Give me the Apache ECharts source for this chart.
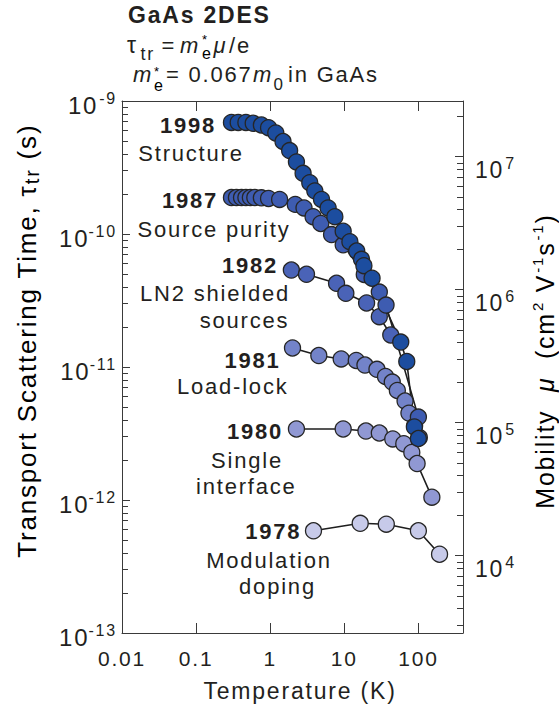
<!DOCTYPE html>
<html>
<head>
<meta charset="utf-8">
<title>GaAs 2DES transport scattering time</title>
<script src="https://cdn.jsdelivr.net/npm/echarts@6/dist/echarts.min.js"></script>
<style>
  html, body { margin: 0; padding: 0; background: #ffffff; }
  #chart { width: 559px; height: 715px; }
  #chart text { letter-spacing: 1.8px; }
</style>
</head>
<body>
<div id="chart"></div>
<script>
// Temperature (K) and transport scattering time tau_tr (s) for each growth milestone
const temp1998 = [0.30, 0.37, 0.47, 0.59, 0.76, 0.95, 1.19, 1.49, 1.83, 2.26, 2.78, 3.42, 4.0, 4.93, 6.05, 7.46, 9.66, 11.9, 14.7, 17.1, 18.4, 23.7, 57.8, 69.7, 88.3, 100];
const tau1998  = [6.9e-10, 6.9e-10, 6.9e-10, 6.8e-10, 6.6e-10, 6.3e-10, 5.75e-10, 4.96e-10, 4.24e-10, 3.48e-10, 2.86e-10, 2.43e-10, 2.11e-10, 1.82e-10, 1.57e-10, 1.35e-10, 1.05e-10, 8.75e-11, 7.45e-11, 6.45e-11, 5.78e-11, 4.65e-11, 1.54e-11, 1.10e-11, 3.54e-12, 2.9e-12];

const temp1987 = [0.30, 0.35, 0.41, 0.47, 0.54, 0.62, 0.76, 0.95, 1.34, 2.18, 2.86, 3.79, 4.82, 6.73, 9.66, 18.6, 29.7, 36.6, 100];
const tau1987  = [1.88e-10, 1.88e-10, 1.88e-10, 1.88e-10, 1.88e-10, 1.88e-10, 1.87e-10, 1.85e-10, 1.82e-10, 1.67e-10, 1.57e-10, 1.35e-10, 1.20e-10, 9.9e-11, 8.3e-11, 4.96e-11, 3.66e-11, 2.92e-11, 4.2e-12];

const temp1982 = [1.93, 3.09, 7.86, 10.5, 20.0, 29.7, 42.4];
const tau1982  = [5.36e-11, 4.98e-11, 4.26e-11, 3.58e-11, 3.03e-11, 2.39e-11, 1.74e-11];

const temp1981 = [2.0, 4.53, 9.08, 14.5, 19.0, 27.6, 36.0, 44.4, 52.0, 66.1, 74.5, 88.9, 103];
const tau1981  = [1.39e-11, 1.22e-11, 1.15e-11, 1.12e-11, 1.035e-11, 9.6e-12, 8.5e-12, 7.7e-12, 6.66e-12, 5.55e-12, 4.5e-12, 3.6e-12, 2.95e-12];

const temp1980 = [2.26, 9.66, 19.6, 29.7, 45.1, 63.5, 81.5, 96.1, 152];
const tau1980  = [3.42e-12, 3.42e-12, 3.30e-12, 3.19e-12, 2.88e-12, 2.65e-12, 2.28e-12, 1.88e-12, 1.05e-12];

const temp1978 = [3.84, 16.4, 36.9, 100, 193];
const tau1978  = [5.87e-13, 6.68e-13, 6.58e-13, 5.87e-13, 3.91e-13];

// Axis ranges and tick labels
const tempRange = [0.01, 400];
const tempTicks = [0.01, 0.1, 1, 10, 100];
const tempTickLabels = ['0.01', '0.1', '1', '10', '100'];
const tauExponents = [-13, -12, -11, -10, -9];
const mobilityExponents = [4, 5, 6, 7];

// tau_tr = m* mu / e with m* = 0.067 m0; mobility in cm^2/Vs
const tauPerMobility = 0.067 * 9.1094e-31 / 1.60218e-19 * 1e-4;

const FONT = '"Liberation Sans", Arial, Helvetica, sans-serif';
const INK = '#231f20';
const FRAME = '#3a3a3a';
const LS = 1.8; // letter spacing applied to all svg text (see stylesheet)

const log10 = Math.log10;

// minor ticks at 2..9 x 10^n, in log10 units
function minorTicks(lo, hi) {
  const out = [];
  for (let n = Math.floor(lo); n < Math.ceil(hi); n++) {
    for (let k = 2; k <= 9; k++) {
      const v = n + log10(k);
      if (v > lo && v < hi) out.push(v);
    }
  }
  return out;
}

// Centred rich text: every run is widened on both sides by its letter spacing,
// so each run gets a left padding covering half of its own and its neighbour's spread.
function spacedRich(runs) {
  let text = '';
  const rich = {};
  let prevChars = 0;
  runs.forEach((r, k) => {
    const key = 'r' + k;
    const n = r.t.length;
    const pad = k === 0 ? 0 : (prevChars + n) / 2 * LS + (r.gap || 0);
    rich[key] = Object.assign({ fontFamily: FONT, color: INK, padding: [0, 0, 0, pad] }, r.style);
    text += '{' + key + '|' + r.t + '}';
    prevChars = n;
  });
  return { text: text, rich: rich };
}

const tauMin = tauExponents[0];
const tauMax = tauExponents[tauExponents.length - 1];
const muMin = log10(Math.pow(10, tauMin) / tauPerMobility);
const muMax = log10(Math.pow(10, tauMax) / tauPerMobility);

const seriesDefs = [
  { year: '1978', temp: temp1978, tau: tau1978, color: '#c7cae9' },
  { year: '1980', temp: temp1980, tau: tau1980, color: '#9098d3' },
  { year: '1981', temp: temp1981, tau: tau1981, color: '#7383c9' },
  { year: '1982', temp: temp1982, tau: tau1982, color: '#4a63b7' },
  { year: '1987', temp: temp1987, tau: tau1987, color: '#3e5cb1' },
  { year: '1998', temp: temp1998, tau: tau1998, color: '#1c4d9f' }
];

function powRich(base, sup) {
  return {
    b: { fontSize: base, lineHeight: base + 5, fontFamily: FONT, color: INK },
    s: { fontSize: sup, lineHeight: sup, verticalAlign: 'top', fontFamily: FONT, color: INK, padding: [0, 0, 0, 2 * LS + 1] }
  };
}
const powLabel = v => '{b|10}{s|' + v + '}';

function txt(text, x, y, extra) {
  return {
    type: 'text', x: x, y: y, silent: true,
    style: Object.assign({
      text: text, fill: INK, fontSize: 22, fontFamily: FONT,
      align: 'center', verticalAlign: 'middle',
      textAlign: 'center', textVerticalAlign: 'middle'
    }, extra || {})
  };
}
const L = { align: 'left', textAlign: 'left' };
const bold = { fontWeight: 'bold' };
const ital = Object.assign({ fontStyle: 'italic' }, L);

// star above, subscript e below: m*_e
function starE(x, top) {
  return {
    type: 'text', x: x, y: top, silent: true,
    style: {
      text: '{a|*}\n{b|e}', align: 'left', textAlign: 'left',
      verticalAlign: 'top', textVerticalAlign: 'top',
      rich: {
        a: { fontSize: 13, lineHeight: 13, fontFamily: FONT, color: INK },
        b: { fontSize: 16, lineHeight: 16, fontFamily: FONT, color: INK }
      }
    }
  };
}

const leftTitle = spacedRich([
  { t: 'Transport Scattering Time, τ', style: { fontSize: 26, lineHeight: 30 } },
  { t: 'tr', style: { fontSize: 20, lineHeight: 16, verticalAlign: 'bottom' } },
  { t: ' (s)', style: { fontSize: 26, lineHeight: 30 } }
]);

const rightTitle = spacedRich([
  { t: 'Mobility  ', style: { fontSize: 25, lineHeight: 30 } },
  { t: 'μ', style: { fontSize: 25, lineHeight: 30, fontStyle: 'italic' } },
  { t: '  (cm', style: { fontSize: 25, lineHeight: 30 } },
  { t: '2', gap: 1, style: { fontSize: 15, lineHeight: 16, verticalAlign: 'top' } },
  { t: ' V', style: { fontSize: 25, lineHeight: 30 } },
  { t: '-1', gap: 1, style: { fontSize: 15, lineHeight: 16, verticalAlign: 'top' } },
  { t: 's', style: { fontSize: 25, lineHeight: 30 } },
  { t: '-1', gap: 1, style: { fontSize: 15, lineHeight: 16, verticalAlign: 'top' } },
  { t: ')', style: { fontSize: 25, lineHeight: 30 } }
]);

const graphics = [
  // heading and relations
  txt('GaAs 2DES', 128, 14.5, Object.assign({ fontSize: 23, fontWeight: 'bold' }, L)),
  txt('τ', 127, 45.4, Object.assign({ fontSize: 23 }, L)),
  txt('tr', 140.5, 53.8, Object.assign({ fontSize: 18 }, L)),
  txt('=', 161.5, 45.4, L),
  txt('m', 180, 45.4, ital),
  starE(202, 32.5),
  txt('μ', 213.5, 45.4, ital),
  txt('/e', 229, 45.4, L),
  txt('m', 133, 74, ital),
  starE(154, 64.7),
  txt('= 0.067', 166, 74, L),
  txt('m', 253, 74, ital),
  txt('0', 273.5, 84, Object.assign({ fontSize: 17 }, L)),
  txt('in GaAs', 288, 74, L),

  // milestone annotations
  txt('1998', 188, 125, bold),
  txt('Structure', 191, 153),
  txt('1987', 190, 200, bold),
  txt('Source purity', 214, 229),
  txt('1982', 250, 265, bold),
  txt('LN2 shielded', 215, 293),
  txt('sources', 244.5, 320.7),
  txt('1981', 252.5, 360, bold),
  txt('Load-lock', 232.7, 386.7),
  txt('1980', 255, 431.7, bold),
  txt('Single', 247, 460),
  txt('interface', 246.3, 486.7),
  txt('1978', 273.3, 531.7, bold),
  txt('Modulation', 269, 560),
  txt('doping', 277.5, 586.7),

  // axis titles
  txt('Temperature (K)', 300, 691, { fontSize: 23 }),
  {
    type: 'text', x: 27, y: 330, rotation: Math.PI / 2, silent: true,
    style: {
      text: leftTitle.text, rich: leftTitle.rich,
      align: 'center', verticalAlign: 'middle', textAlign: 'center', textVerticalAlign: 'middle'
    }
  },
  {
    type: 'text', x: 545, y: 357, rotation: Math.PI / 2, silent: true,
    style: {
      text: rightTitle.text, rich: rightTitle.rich,
      align: 'center', verticalAlign: 'middle', textAlign: 'center', textVerticalAlign: 'middle'
    }
  }
];

const chart = echarts.init(document.getElementById('chart'), null, { renderer: 'svg' });

const tempTickPos = tempTicks.map(log10);
function tempLabel(v) {
  for (let i = 0; i < tempTickPos.length; i++) {
    if (Math.abs(tempTickPos[i] - v) < 1e-6) return tempTickLabels[i];
  }
  return '';
}

const frameLine = { show: true, onZero: false, lineStyle: { color: FRAME, width: 1 } };
const noLine = { show: false, onZero: false };

const option = {
  animation: false,
  backgroundColor: '#ffffff',
  grid: { left: 122, right: 96, top: 101, bottom: 82 },
  xAxis: [
    {
      type: 'value', position: 'bottom', min: log10(tempRange[0]), max: log10(tempRange[1]),
      axisLine: frameLine,
      splitLine: { show: false },
      axisTick: { show: true, inside: true, length: 10, customValues: tempTickPos, lineStyle: { color: FRAME } },
      axisLabel: { customValues: tempTickPos, formatter: tempLabel, margin: 15, fontSize: 21, color: INK, fontFamily: FONT }
    },
    {
      type: 'value', position: 'top', min: log10(tempRange[0]), max: log10(tempRange[1]),
      axisLine: frameLine,
      splitLine: { show: false },
      axisTick: { show: true, inside: true, length: 10, customValues: tempTickPos, lineStyle: { color: FRAME } },
      axisLabel: { show: false }
    }
  ],
  yAxis: [
    {
      type: 'value', position: 'left', min: tauMin, max: tauMax, interval: 1,
      axisLine: frameLine,
      splitLine: { show: false },
      axisTick: { show: true, inside: true, length: 8, lineStyle: { color: FRAME } },
      axisLabel: { formatter: powLabel, rich: powRich(24, 16), margin: 5, padding: [8, 0, 0, 0] }
    },
    {
      type: 'value', position: 'left', min: tauMin, max: tauMax,
      axisLine: noLine, splitLine: { show: false }, axisLabel: { show: false },
      axisTick: { show: true, inside: true, length: 6, customValues: minorTicks(tauMin, tauMax), lineStyle: { color: FRAME } }
    },
    {
      type: 'value', position: 'right', min: muMin, max: muMax,
      axisLine: frameLine,
      splitLine: { show: false },
      axisTick: { show: true, inside: true, length: 8, customValues: mobilityExponents, lineStyle: { color: FRAME } },
      axisLabel: { customValues: mobilityExponents, formatter: powLabel, rich: powRich(23, 16), margin: 12, padding: [26, 0, 0, 0] }
    },
    {
      type: 'value', position: 'right', min: muMin, max: muMax,
      axisLine: noLine, splitLine: { show: false }, axisLabel: { show: false },
      axisTick: { show: true, inside: true, length: 6, customValues: minorTicks(muMin, muMax), lineStyle: { color: FRAME } }
    }
  ],
  series: seriesDefs.map(d => ({
    type: 'line',
    name: d.year,
    xAxisIndex: 0,
    yAxisIndex: 0,
    data: d.temp.map((t, i) => [log10(t), log10(d.tau[i])]),
    symbol: 'circle',
    symbolSize: 16,
    showAllSymbol: true,
    itemStyle: { color: d.color, borderColor: '#262626', borderWidth: 1.3 },
    lineStyle: { color: '#1e1e1e', width: 1.6 },
    emphasis: { disabled: true }
  })),
  graphic: graphics
};

chart.setOption(option);
</script>
</body>
</html>
